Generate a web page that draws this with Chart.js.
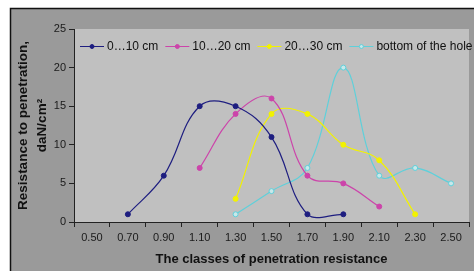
<!DOCTYPE html>
<html>
<head>
<meta charset="utf-8">
<script src="https://cdn.jsdelivr.net/npm/chart.js@4.4.1/dist/chart.umd.min.js"></script>
<style>
  html, body { margin: 0; padding: 0; background: #fff; }
  #wrap { width: 474px; height: 271px; }
</style>
</head>
<body>
<div id="wrap"><canvas id="chart" width="474" height="271"></canvas></div>
<script>
// penetration resistance classes (x categories)
const classes = ["0.50", "0.70", "0.90", "1.10", "1.30", "1.50", "1.70", "1.90", "2.10", "2.30", "2.50"];

// resistance values, daN/cm2, one per class (null = no value)
const depth0to10 = [null, 1, 6, 15, 15, 11, 1, 1, null, null, null];
const depth10to20 = [null, null, null, 7, 14, 16, 6, 5, 2, null, null];
const depth20to30 = [null, null, null, null, 3, 14, 14, 10, 8, 1, null];
const bottomHole = [null, null, null, null, 1, 4, 7, 20, 6, 7, 5];

const seriesNames = ["0\u202610 cm", "10\u202620 cm", "20\u202630 cm", "bottom of the hole"];
const seriesColors = ["#1e1e80", "#cc44aa", "#f2f200", "#5fd0da"];
const fontFam = "'Liberation Sans', Arial, sans-serif";

// gray frame + plot area background
const framePlugin = {
  id: 'frame',
  beforeDraw(chart) {
    const ctx = chart.ctx;
    const a = chart.chartArea;
    ctx.save();
    ctx.fillStyle = '#ffffff';
    ctx.fillRect(0, 0, chart.width, chart.height);
    ctx.fillStyle = '#9a9a9a';
    ctx.fillRect(10, 8, chart.width - 10, chart.height - 8);
    ctx.strokeStyle = '#111';
    ctx.lineWidth = 1.5;
    ctx.beginPath();
    ctx.moveTo(10.5, chart.height);
    ctx.lineTo(10.5, 8.5);
    ctx.lineTo(chart.width, 8.5);
    ctx.stroke();
    ctx.fillStyle = '#c0c0c0';
    ctx.fillRect(a.left, a.top, a.right - a.left, a.bottom - a.top);
    ctx.restore();
  }
};

// Excel style legend inside the plot area
const legendPlugin = {
  id: 'xlLegend',
  afterDatasetsDraw(chart) {
    const ctx = chart.ctx;
    ctx.save();
    ctx.font = "12px " + fontFam;
    ctx.textBaseline = 'middle';
    let x = 80;
    const y = 46;
    chart.data.datasets.forEach((ds, i) => {
      ctx.strokeStyle = ds.borderColor;
      ctx.lineWidth = 1;
      ctx.beginPath();
      ctx.moveTo(x, y + 0.5);
      ctx.lineTo(x + 24, y + 0.5);
      ctx.stroke();
      ctx.beginPath();
      ctx.arc(x + 12, y + 0.5, 2, 0, Math.PI * 2);
      ctx.fillStyle = ds.pointBackgroundColor;
      ctx.fill();
      ctx.stroke();
      ctx.fillStyle = '#111';
      ctx.fillText(ds.label, x + 27, y + 1);
      x += 27 + ctx.measureText(ds.label).width + 7;
    });
    ctx.restore();
  }
};

function makeSet(label, values, color, fill) {
  return {
    label: label,
    data: values,
    borderColor: color,
    backgroundColor: color,
    pointBackgroundColor: fill || color,
    pointBorderColor: color,
    pointRadius: 2.5,
    pointBorderWidth: 1,
    borderWidth: 1.2,
    tension: 0.4,
    fill: false
  };
}

new Chart(document.getElementById('chart'), {
  type: 'line',
  data: {
    labels: classes,
    datasets: [
      makeSet(seriesNames[0], depth0to10, seriesColors[0]),
      makeSet(seriesNames[1], depth10to20, seriesColors[1]),
      makeSet(seriesNames[2], depth20to30, seriesColors[2]),
      makeSet(seriesNames[3], bottomHole, seriesColors[3], '#c8e8ea')
    ]
  },
  plugins: [framePlugin, legendPlugin],
  options: {
    responsive: false,
    animation: false,
    devicePixelRatio: 1,
    layout: { padding: { left: 14, top: 29, right: 0, bottom: 0 } },
    plugins: {
      legend: { display: false },
      tooltip: { enabled: false }
    },
    scales: {
      x: {
        type: 'category',
        offset: true,
        grid: {
          offset: true,
          drawOnChartArea: false,
          drawTicks: true,
          tickLength: 5,
          color: '#222'
        },
        border: { color: '#222', width: 1 },
        ticks: {
          color: '#1a1a1a',
          padding: 4,
          maxRotation: 0,
          autoSkip: false,
          font: { family: fontFam, size: 11 }
        },
        title: {
          display: true,
          text: 'The classes of penetration resistance',
          color: '#111',
          font: { family: fontFam, size: 13, weight: 'bold' },
          padding: { top: 0, bottom: 4 }
        },
        afterFit(scale) { scale.height = 49; }
      },
      y: {
        min: 0,
        max: 25,
        grid: {
          drawOnChartArea: false,
          drawTicks: true,
          tickLength: 5,
          color: '#222'
        },
        border: { color: '#222', width: 1 },
        ticks: {
          stepSize: 5,
          color: '#1a1a1a',
          padding: 3,
          font: { family: fontFam, size: 11 }
        },
        title: {
          display: true,
          text: ['Resistance to penetration,', 'daN/cm\u00b2'],
          color: '#111',
          font: { family: fontFam, size: 13.5, weight: 'bold', lineHeight: 1.4 },
          padding: { top: 0, bottom: 0 }
        },
        afterFit(scale) { scale.width = 60; }
      }
    }
  }
});
</script>
</body>
</html>
